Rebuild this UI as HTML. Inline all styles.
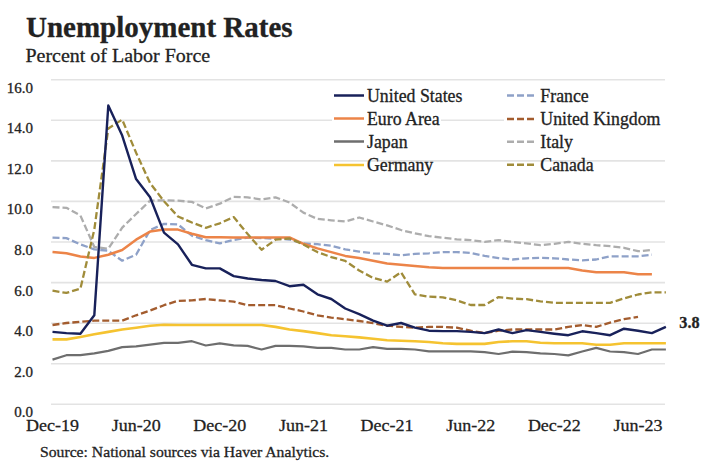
<!DOCTYPE html>
<html><head><meta charset="utf-8"><style>
html,body{margin:0;padding:0;background:#fff;}
svg{display:block;}
text{font-family:"Liberation Serif", serif;fill:#222;stroke:#222;stroke-width:0.3px;}
</style></head><body>
<svg width="720" height="474" viewBox="0 0 720 474">
<rect width="720" height="474" fill="#fff"/>

<text transform="translate(26.00 37.30) scale(1 1.000)" font-size="29" font-weight="bold" fill="#111">Unemployment Rates</text>
<text transform="translate(25.40 61.70) scale(1 0.900)" font-size="20">Percent of Labor Force</text>
<line x1="51" x2="665" y1="404.3" y2="404.3" stroke="#e3e3e3" stroke-width="1.6"/>
<line x1="51" x2="665" y1="363.7" y2="363.7" stroke="#e3e3e3" stroke-width="1.6"/>
<line x1="51" x2="665" y1="323.2" y2="323.2" stroke="#e3e3e3" stroke-width="1.6"/>
<line x1="51" x2="665" y1="282.6" y2="282.6" stroke="#e3e3e3" stroke-width="1.6"/>
<line x1="51" x2="665" y1="242.0" y2="242.0" stroke="#e3e3e3" stroke-width="1.6"/>
<line x1="51" x2="665" y1="201.4" y2="201.4" stroke="#e3e3e3" stroke-width="1.6"/>
<line x1="51" x2="665" y1="160.9" y2="160.9" stroke="#e3e3e3" stroke-width="1.6"/>
<line x1="51" x2="332" y1="120.3" y2="120.3" stroke="#e3e3e3" stroke-width="1.6"/>
<line x1="441" x2="504" y1="120.3" y2="120.3" stroke="#e3e3e3" stroke-width="1.6"/>
<line x1="51" x2="665" y1="79.7" y2="79.7" stroke="#e3e3e3" stroke-width="1.6"/>
<text x="33" y="417.3" font-size="15" text-anchor="end">0.0</text>
<text x="33" y="376.7" font-size="15" text-anchor="end">2.0</text>
<text x="33" y="336.2" font-size="15" text-anchor="end">4.0</text>
<text x="33" y="295.6" font-size="15" text-anchor="end">6.0</text>
<text x="33" y="255.0" font-size="15" text-anchor="end">8.0</text>
<text x="33" y="214.4" font-size="15" text-anchor="end">10.0</text>
<text x="33" y="173.9" font-size="15" text-anchor="end">12.0</text>
<text x="33" y="133.3" font-size="15" text-anchor="end">14.0</text>
<text x="33" y="92.7" font-size="15" text-anchor="end">16.0</text>
<text transform="translate(52.50 431.1) scale(1 0.92)" font-size="18" text-anchor="middle">Dec-19</text>
<text transform="translate(136.14 431.1) scale(1 0.92)" font-size="18" text-anchor="middle">Jun-20</text>
<text transform="translate(219.78 431.1) scale(1 0.92)" font-size="18" text-anchor="middle">Dec-20</text>
<text transform="translate(303.42 431.1) scale(1 0.92)" font-size="18" text-anchor="middle">Jun-21</text>
<text transform="translate(387.06 431.1) scale(1 0.92)" font-size="18" text-anchor="middle">Dec-21</text>
<text transform="translate(470.70 431.1) scale(1 0.92)" font-size="18" text-anchor="middle">Jun-22</text>
<text transform="translate(554.34 431.1) scale(1 0.92)" font-size="18" text-anchor="middle">Dec-22</text>
<text transform="translate(637.98 431.1) scale(1 0.92)" font-size="18" text-anchor="middle">Jun-23</text>
<path d="M52.5 207.2 L66.4 207.8 L80.4 215.5 L94.3 247.0 L108.3 248.8 L122.2 227.6 L136.1 214.0 L150.1 200.7 L164.0 200.3 L178.0 200.7 L191.9 201.9 L205.8 208.4 L219.8 203.7 L233.7 196.9 L247.7 197.3 L261.6 199.5 L275.5 197.3 L289.5 202.5 L303.4 212.6 L317.4 218.9 L331.3 220.3 L345.2 221.5 L359.2 217.5 L373.1 221.5 L387.1 225.4 L401.0 230.0 L414.9 233.4 L428.9 236.1 L442.8 237.7 L456.8 239.3 L470.7 240.1 L484.6 241.9 L498.6 240.1 L512.5 241.9 L526.5 243.4 L540.4 245.2 L554.3 243.8 L568.3 241.9 L582.2 243.8 L596.2 245.2 L610.1 246.2 L624.0 247.8 L638.0 251.2 L651.9 250.0" fill="none" stroke="#adadad" stroke-width="2.3" stroke-linejoin="round" stroke-dasharray="7 3"/>
<path d="M52.5 237.7 L66.4 238.1 L80.4 244.4 L94.3 249.4 L108.3 250.8 L122.2 260.7 L136.1 254.7 L150.1 230.0 L164.0 223.9 L178.0 224.4 L191.9 235.7 L205.8 240.1 L219.8 243.4 L233.7 239.9 L247.7 237.5 L261.6 238.1 L275.5 238.7 L289.5 239.5 L303.4 243.4 L317.4 244.2 L331.3 245.8 L345.2 249.4 L359.2 251.6 L373.1 253.3 L387.1 253.9 L401.0 255.3 L414.9 253.9 L428.9 253.3 L442.8 252.1 L456.8 252.1 L470.7 252.9 L484.6 255.9 L498.6 258.1 L512.5 259.5 L526.5 258.3 L540.4 257.9 L554.3 258.3 L568.3 259.5 L582.2 260.3 L596.2 259.5 L610.1 256.3 L624.0 256.3 L638.0 256.3 L651.9 254.7" fill="none" stroke="#8ea1c8" stroke-width="2.3" stroke-linejoin="round" stroke-dasharray="7 3"/>
<path d="M52.5 252.1 L66.4 253.3 L80.4 256.5 L94.3 257.9 L108.3 254.7 L122.2 250.0 L136.1 239.7 L150.1 231.6 L164.0 229.4 L178.0 229.6 L191.9 233.7 L205.8 237.3 L219.8 237.3 L233.7 237.5 L247.7 237.5 L261.6 237.5 L275.5 237.5 L289.5 237.5 L303.4 243.8 L317.4 248.4 L331.3 252.1 L345.2 255.9 L359.2 257.9 L373.1 260.7 L387.1 263.4 L401.0 264.8 L414.9 266.0 L428.9 267.2 L442.8 268.0 L456.8 268.0 L470.7 268.0 L484.6 268.0 L498.6 268.0 L512.5 268.0 L526.5 268.0 L540.4 268.0 L554.3 268.0 L568.3 268.0 L582.2 270.5 L596.2 272.3 L610.1 272.3 L624.0 272.3 L638.0 274.3 L651.9 274.3" fill="none" stroke="#ec8448" stroke-width="2.5" stroke-linejoin="round"/>
<path d="M52.5 290.7 L66.4 292.9 L80.4 288.7 L94.3 229.6 L108.3 128.5 L122.2 119.6 L136.1 152.8 L150.1 183.1 L164.0 201.3 L178.0 216.5 L191.9 222.5 L205.8 227.8 L219.8 223.3 L233.7 217.1 L247.7 234.1 L261.6 249.8 L275.5 239.7 L289.5 238.5 L303.4 244.4 L317.4 252.1 L331.3 257.1 L345.2 260.9 L359.2 270.5 L373.1 277.9 L387.1 281.6 L401.0 272.3 L414.9 294.3 L428.9 296.7 L442.8 297.3 L456.8 300.4 L470.7 305.0 L484.6 305.0 L498.6 297.1 L512.5 298.6 L526.5 299.2 L540.4 301.4 L554.3 302.8 L568.3 302.8 L582.2 302.8 L596.2 302.8 L610.1 302.8 L624.0 298.4 L638.0 294.5 L651.9 292.3 L665.9 292.3" fill="none" stroke="#a08c3a" stroke-width="2.3" stroke-linejoin="round" stroke-dasharray="7 3"/>
<path d="M52.5 325.0 L66.4 323.0 L80.4 321.8 L94.3 320.6 L108.3 320.6 L122.2 320.6 L136.1 315.3 L150.1 310.5 L164.0 305.2 L178.0 300.8 L191.9 300.4 L205.8 299.0 L219.8 300.4 L233.7 301.6 L247.7 305.2 L261.6 305.2 L275.5 305.2 L289.5 308.5 L303.4 311.5 L317.4 315.3 L331.3 317.6 L345.2 319.2 L359.2 321.0 L373.1 323.2 L387.1 325.7 L401.0 326.9 L414.9 327.7 L428.9 326.9 L442.8 326.9 L456.8 327.7 L470.7 330.7 L484.6 333.1 L498.6 330.7 L512.5 329.5 L526.5 329.5 L540.4 329.5 L554.3 329.5 L568.3 326.9 L582.2 325.0 L596.2 326.9 L610.1 322.6 L624.0 319.2 L638.0 316.8" fill="none" stroke="#a35c2e" stroke-width="2.3" stroke-linejoin="round" stroke-dasharray="7 3"/>
<path d="M52.5 339.4 L66.4 339.4 L80.4 337.0 L94.3 334.3 L108.3 331.9 L122.2 329.5 L136.1 327.7 L150.1 325.7 L164.0 324.8 L178.0 325.0 L191.9 325.0 L205.8 325.0 L219.8 325.0 L233.7 325.0 L247.7 325.0 L261.6 325.0 L275.5 326.9 L289.5 329.5 L303.4 331.1 L317.4 333.1 L331.3 335.2 L345.2 336.2 L359.2 337.4 L373.1 338.8 L387.1 340.2 L401.0 340.8 L414.9 341.2 L428.9 342.0 L442.8 343.2 L456.8 343.9 L470.7 343.9 L484.6 343.9 L498.6 342.0 L512.5 341.2 L526.5 341.2 L540.4 342.8 L554.3 343.2 L568.3 343.2 L582.2 343.2 L596.2 344.7 L610.1 344.7 L624.0 343.2 L638.0 343.2 L651.9 343.2 L665.9 343.2" fill="none" stroke="#f5c330" stroke-width="2.6" stroke-linejoin="round"/>
<path d="M52.5 359.6 L66.4 355.2 L80.4 355.2 L94.3 353.4 L108.3 350.9 L122.2 347.1 L136.1 346.3 L150.1 344.7 L164.0 342.8 L178.0 342.8 L191.9 341.2 L205.8 345.5 L219.8 343.4 L233.7 345.3 L247.7 345.9 L261.6 349.5 L275.5 345.9 L289.5 345.9 L303.4 346.3 L317.4 347.9 L331.3 347.9 L345.2 349.5 L359.2 349.5 L373.1 347.1 L387.1 348.9 L401.0 348.9 L414.9 349.5 L428.9 351.3 L442.8 351.3 L456.8 351.3 L470.7 351.3 L484.6 352.1 L498.6 354.0 L512.5 351.7 L526.5 352.1 L540.4 353.4 L554.3 354.0 L568.3 355.4 L582.2 351.5 L596.2 347.9 L610.1 351.5 L624.0 352.1 L638.0 354.0 L651.9 349.5 L665.9 349.5" fill="none" stroke="#6e6e6e" stroke-width="2.2" stroke-linejoin="round"/>
<path d="M52.5 331.9 L66.4 333.1 L80.4 333.7 L94.3 315.3 L108.3 105.5 L122.2 135.6 L136.1 179.1 L150.1 197.3 L164.0 232.6 L178.0 244.4 L191.9 264.8 L205.8 268.4 L219.8 268.4 L233.7 276.1 L247.7 278.5 L261.6 280.0 L275.5 281.0 L289.5 286.2 L303.4 284.8 L317.4 294.3 L331.3 299.0 L345.2 308.5 L359.2 314.1 L373.1 320.6 L387.1 325.7 L401.0 323.0 L414.9 327.7 L428.9 330.7 L442.8 331.1 L456.8 331.1 L470.7 331.9 L484.6 333.1 L498.6 329.5 L512.5 333.1 L526.5 330.1 L540.4 331.9 L554.3 333.7 L568.3 335.2 L582.2 331.3 L596.2 333.1 L610.1 335.2 L624.0 328.7 L638.0 330.7 L651.9 333.1 L665.9 326.9" fill="none" stroke="#18215a" stroke-width="2.4" stroke-linejoin="round"/>
<line x1="334" x2="364" y1="95.5" y2="95.5" stroke="#18215a" stroke-width="2.5"/>
<text transform="translate(367.00 101.50) scale(1 1.050)" font-size="17.8">United States</text>
<line x1="334" x2="364" y1="118.5" y2="118.5" stroke="#ec8448" stroke-width="2.5"/>
<text transform="translate(367.00 124.50) scale(1 1.050)" font-size="17.8">Euro Area</text>
<line x1="334" x2="364" y1="141.5" y2="141.5" stroke="#6e6e6e" stroke-width="2.5"/>
<text transform="translate(367.00 147.50) scale(1 1.050)" font-size="17.8">Japan</text>
<line x1="334" x2="364" y1="165.0" y2="165.0" stroke="#f5c330" stroke-width="2.5"/>
<text transform="translate(367.00 171.00) scale(1 1.050)" font-size="17.8">Germany</text>
<line x1="507" x2="535" y1="95.5" y2="95.5" stroke="#8ea1c8" stroke-width="2.5" stroke-dasharray="7 3"/>
<text transform="translate(540.30 101.50) scale(1 1.050)" font-size="17.8">France</text>
<line x1="507" x2="535" y1="119.0" y2="119.0" stroke="#a35c2e" stroke-width="2.5" stroke-dasharray="7 3"/>
<text transform="translate(540.30 125.00) scale(1 1.050)" font-size="17.8">United Kingdom</text>
<line x1="507" x2="535" y1="141.7" y2="141.7" stroke="#adadad" stroke-width="2.5" stroke-dasharray="7 3"/>
<text transform="translate(540.30 147.70) scale(1 1.050)" font-size="17.8">Italy</text>
<line x1="507" x2="535" y1="164.7" y2="164.7" stroke="#a08c3a" stroke-width="2.5" stroke-dasharray="7 3"/>
<text transform="translate(540.30 170.70) scale(1 1.050)" font-size="17.8">Canada</text>
<text transform="translate(679.30 327.80) scale(1 1.000)" font-size="16.2" font-weight="bold">3.8</text>
<text transform="translate(40.00 457.00) scale(1 0.910)" font-size="15.7">Source: National sources via Haver Analytics.</text>
</svg></body></html>
